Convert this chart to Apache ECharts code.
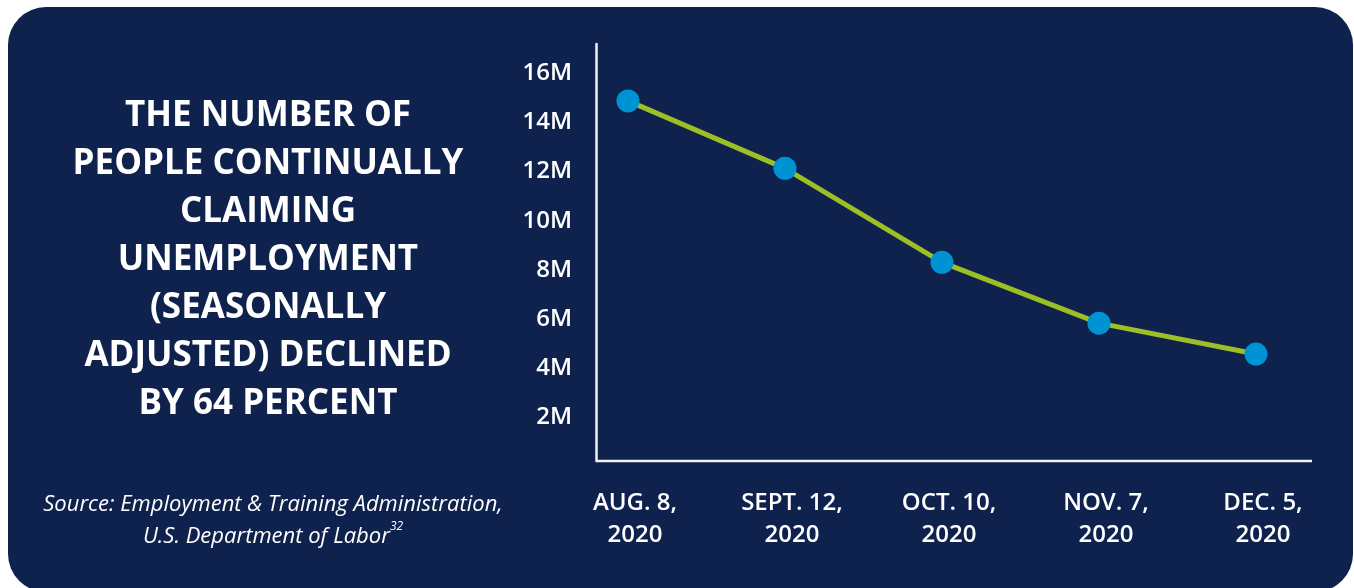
<!DOCTYPE html>
<html>
<head>
<meta charset="utf-8">
<script src="https://cdn.jsdelivr.net/npm/echarts@6/dist/echarts.min.js"></script>
<style>
html,body{margin:0;padding:0;background:#fff;}
#chart{width:1354px;height:588px;}
</style>
</head>
<body>
<div id="chart"></div>
<script>
// ---- data ----
const categories = ['AUG. 8,\n2020', 'SEPT. 12,\n2020', 'OCT. 10,\n2020', 'NOV. 7,\n2020', 'DEC. 5,\n2020'];
const claimsMillions = [14.68, 11.93, 8.1, 5.62, 4.36];
const yMin = 0, yMax = 17, yStep = 2;
const titleLines = ['THE NUMBER OF', 'PEOPLE CONTINUALLY', 'CLAIMING', 'UNEMPLOYMENT', '(SEASONALLY', 'ADJUSTED) DECLINED', 'BY 64 PERCENT'];
const sourceLine1 = 'Source: Employment & Training Administration,';
const sourceLine2 = 'U.S. Department of Labor';
const sourceNote = '32';

const BG = '#0f224e';
const chart = echarts.init(document.getElementById('chart'));
chart.setOption({
  backgroundColor: '#ffffff',
  animation: false,
  title: [
    {
      text: titleLines.join('\n'),
      left: 268, top: 92, textAlign: 'center', padding: 0,
      textStyle: { color: '#ffffff', fontFamily: 'Open Sans', fontWeight: 'bold', fontSize: 35, lineHeight: 48, letterSpacing: 0.6 }
    },
    {
      text: '{m|' + sourceLine1 + '}\n{m|' + sourceLine2 + '}{sup|' + sourceNote + '}',
      left: 273, top: 489, textAlign: 'center', padding: 0,
      textStyle: {
        color: '#ffffff', fontFamily: 'Open Sans', fontStyle: 'italic', fontWeight: 'normal', fontSize: 22, lineHeight: 32,
        rich: {
          m: { fontSize: 22, fontStyle: 'italic', fontFamily: 'Open Sans', color: '#ffffff', lineHeight: 32 },
          sup: { fontSize: 12, fontStyle: 'italic', fontFamily: 'Open Sans', color: '#ffffff', verticalAlign: 'top', lineHeight: 26 }
        }
      }
    }
  ],
  graphic: [
    { type: 'rect', z: -10, silent: true, shape: { x: 8, y: 7, width: 1345, height: 585, r: 38 }, style: { fill: BG } },
    { type: 'line', z: 5, silent: true, shape: { x1: 596, y1: 461, x2: 1312, y2: 461 }, style: { stroke: '#f2f2f2', lineWidth: 2.5 } }
  ],
  grid: { left: 628, right: 98, top: 44, bottom: 127, containLabel: false },
  xAxis: {
    type: 'category', data: categories, boundaryGap: false,
    axisLine: { show: false }, axisTick: { show: false }, splitLine: { show: false },
    axisLabel: { color: '#ffffff', fontFamily: 'Open Sans', fontWeight: 600, fontSize: 24, lineHeight: 32, margin: 26, padding: [0, 0, 0, 14], interval: 0 }
  },
  yAxis: {
    type: 'value', min: yMin, max: yMax, interval: yStep, offset: 32,
    axisLine: { show: true, lineStyle: { color: '#f2f2f2', width: 2.5 } },
    axisTick: { show: false }, splitLine: { show: false },
    axisLabel: {
      color: '#ffffff', fontFamily: 'Open Sans', fontWeight: 600, fontSize: 24, margin: 24,
      formatter: v => (v > 0 && v % yStep === 0) ? '{t|' + v + 'M}' : '',
      rich: { t: { color: '#ffffff', fontFamily: 'Open Sans', fontWeight: 600, fontSize: 24, padding: [10, 0, 0, 0] } }
    }
  },
  series: [{
    type: 'line', data: claimsMillions,
    symbol: 'circle', symbolSize: 23,
    itemStyle: { color: '#0093d3' },
    lineStyle: { color: '#9cbf26', width: 5 }
  }]
});
</script>
</body>
</html>
